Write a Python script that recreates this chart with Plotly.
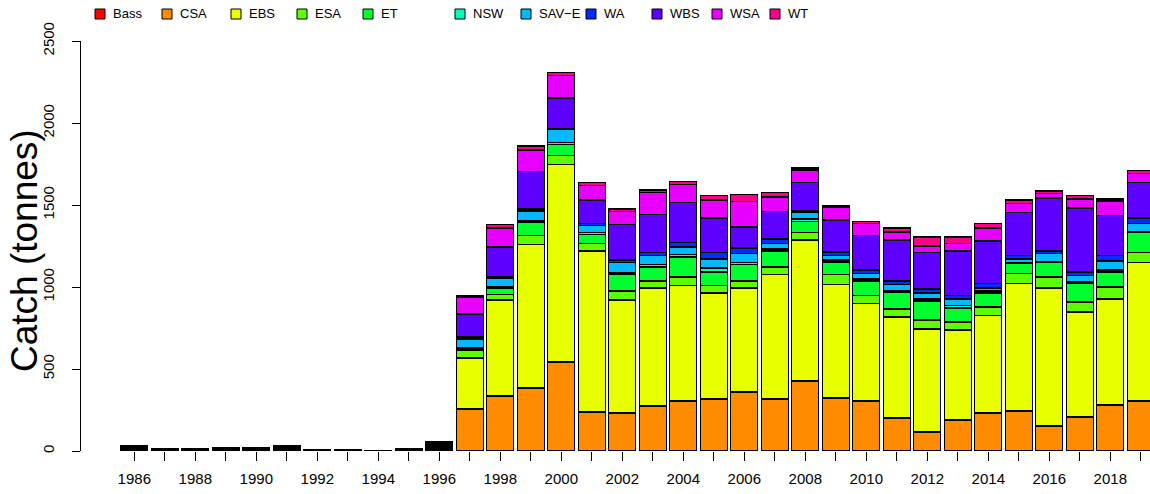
import plotly.graph_objects as go

years = list(range(1986, 2020))
categories = ["Bass", "CSA", "EBS", "ESA", "ET", "NSW", "SAV\u2212E", "WA", "WBS", "WSA", "WT"]
colors = ["#FF0000", "#FF8B00", "#E8FF00", "#5DFF00", "#00FF2E", "#00FFB9",
          "#00B9FF", "#002EFF", "#5D00FF", "#E800FF", "#FF008B"]

# catch (tonnes) by year 1986..2019  (first 11 values = 1986..1996)
bass = [0] * 34
csa = [0, 0, 0, 0, 0, 0, 0, 0, 0, 0, 6] + [256, 336, 384, 543, 238, 232, 275, 305, 317, 360, 317, 427, 323, 305, 201, 116, 189, 232, 244, 153, 207, 281, 305]
ebs = [6, 5, 5, 5, 6, 6, 4, 0, 0, 5, 6] + [311, 585, 873, 1202, 982, 689, 719, 702, 647, 634, 757, 860, 690, 592, 616, 628, 549, 592, 775, 841, 641, 646, 842]
esa = [6, 0, 0, 0, 0, 6, 0, 0, 0, 0, 6] + [49, 31, 55, 55, 43, 55, 43, 54, 43, 43, 48, 43, 61, 49, 49, 55, 49, 54, 61, 67, 61, 73, 61]
et = [6, 0, 0, 5, 5, 6, 0, 0, 0, 0, 6] + [9, 42, 79, 67, 55, 98, 85, 122, 85, 98, 98, 67, 79, 91, 104, 116, 85, 86, 61, 86, 116, 92, 122]
nsw = [0, 0, 0, 0, 0, 0, 0, 0, 0, 0, 6] + [3, 9, 12, 12, 12, 12, 13, 13, 24, 12, 12, 18, 12, 12, 6, 12, 13, 12, 6, 6, 6, 12, 6]
save = [0, 0, 0, 0, 0, 0, 0, 0, 0, 0, 6] + [55, 52, 61, 79, 43, 61, 55, 48, 55, 55, 31, 37, 25, 31, 37, 37, 42, 18, 24, 49, 37, 55, 49]
wa = [0, 0, 0, 0, 0, 6, 0, 0, 0, 0, 6] + [12, 7, 12, 6, 12, 18, 18, 25, 37, 36, 30, 12, 24, 24, 24, 24, 19, 25, 19, 18, 24, 31, 36]
wbs = [6, 5, 5, 5, 6, 6, 4, 3, 5, 5, 7] + [141, 182, 226, 189, 146, 214, 232, 244, 213, 128, 165, 171, 195, 208, 250, 220, 274, 262, 262, 323, 390, 244, 214]
wsa = [6, 5, 5, 5, 5, 6, 0, 3, 0, 4, 6] + [103, 116, 134, 135, 86, 79, 134, 110, 110, 153, 91, 79, 79, 73, 49, 42, 43, 79, 55, 25, 55, 91, 55]
wt = [0] * 11 + [6, 19, 24, 18, 18, 18, 18, 18, 25, 43, 25, 12, 6, 12, 24, 55, 42, 25, 24, 18, 19, 12, 18]

series = [bass, csa, ebs, esa, et, nsw, save, wa, wbs, wsa, wt]

tick_years = years
tick_text = [str(y) if y % 2 == 0 else "" for y in years]
y_ticks = [0, 500, 1000, 1500, 2000, 2500]

FONT = "Liberation Sans, Arial, Helvetica, sans-serif"
W, H = 1150, 494
ML, MR, MT, MB = 81, 0, 41, 43
PW = W - ML - MR
PH = H - MT - MB

fig = go.Figure()
for name, vals, col in zip(categories, series, colors):
    fig.add_trace(go.Bar(x=years, y=vals, name=name, marker_color=col,
                         marker_line_color="black", marker_line_width=1.2,
                         showlegend=False))

def px_x(p):  # pixel -> paper x
    return (p - ML) / PW

def px_y(p):  # pixel -> paper y
    return (H - MB - p) / PH

# custom legend (R-style, one row)
leg_centers = [100, 167, 236, 302, 368, 460, 526, 591, 657, 717, 775]
shapes = []
annotations = []
for name, col, cx in zip(categories, colors, leg_centers):
    shapes.append(dict(type="rect", xref="paper", yref="paper",
                       x0=px_x(cx - 5), x1=px_x(cx + 5), y0=px_y(19), y1=px_y(9),
                       fillcolor=col, line=dict(color="black", width=1)))
    annotations.append(dict(text=name, xref="paper", yref="paper",
                            x=px_x(cx + 11), y=px_y(14), xanchor="left", yanchor="middle",
                            showarrow=False, font=dict(family=FONT, size=13, color="black")))

annotations.append(dict(text="Catch (tonnes)", xref="paper", yref="paper",
                        x=px_x(24), y=px_y(251), xanchor="center", yanchor="middle",
                        textangle=-90, showarrow=False,
                        font=dict(family=FONT, size=37, color="black")))

fig.update_layout(
    barmode="stack",
    bargap=0.114,
    width=W, height=H,
    margin=dict(l=ML, r=MR, t=MT, b=MB, autoexpand=False),
    paper_bgcolor="white", plot_bgcolor="white",
    font=dict(family=FONT, size=15, color="black"),
    shapes=shapes,
    annotations=annotations,
    xaxis=dict(range=[1984.252, 2019.302], tickmode="array", tickvals=tick_years,
               ticktext=tick_text, ticks="outside", ticklen=9, tickcolor="black",
               ticklabelstandoff=5,
               showline=False, showgrid=False, zeroline=False,
               tickfont=dict(family=FONT, size=15, color="black")),
    yaxis=dict(range=[0, 2500], tickmode="array", tickvals=y_ticks,
               ticks="outside", ticklen=8, tickcolor="black", tickangle=-90,
               ticklabelstandoff=12,
               showline=True, linecolor="black", linewidth=1,
               showgrid=False, zeroline=False,
               tickfont=dict(family=FONT, size=15, color="black")),
)

fig.write_html("out.html", config={"displayModeBar": False},
               post_script="document.body.style.margin='0';")
